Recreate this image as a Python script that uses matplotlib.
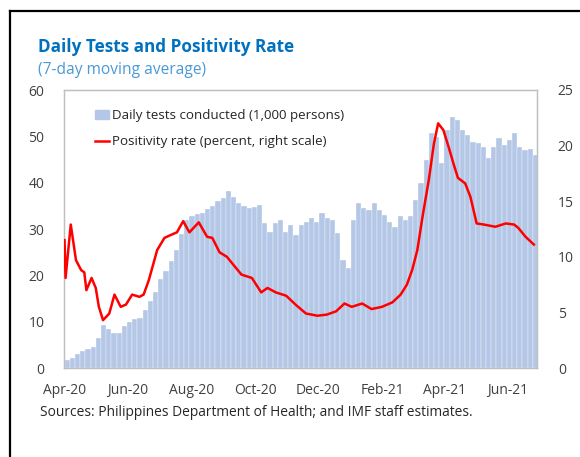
import matplotlib
matplotlib.use("Agg")
import matplotlib.pyplot as plt
import matplotlib.lines as mlines
import numpy as np
import pandas as pd

FONT = "Open Sans"
plt.rcParams['font.family'] = [FONT, 'DejaVu Sans']

start = pd.Timestamp("2020-04-01")

# Daily tests conducted (1,000 persons), one reading every 5 days from 1 Apr 2020
test_offsets = list(range(0, 451, 5))
tests = [1.7, 2.2, 3.0, 3.6, 4.2, 4.6, 6.5, 9.3, 8.5, 7.5,
         7.6, 9.0, 10.0, 10.5, 10.8, 12.5, 14.5, 16.5, 19.3, 21.0,
         23.0, 25.5, 29.0, 32.0, 32.8, 33.2, 33.5, 34.3, 35.0, 36.0,
         36.7, 38.2, 37.0, 35.6, 35.0, 34.5, 34.8, 35.2, 31.3, 29.4,
         31.3, 32.0, 29.4, 30.9, 28.7, 30.9, 31.6, 32.4, 31.6, 33.5,
         32.4, 32.0, 29.1, 23.3, 21.6, 32.0, 35.6, 34.5, 34.1, 35.6,
         34.1, 33.0, 31.6, 30.5, 32.7, 32.0, 32.7, 36.3, 39.9, 44.9,
         50.7, 49.9, 44.2, 51.4, 54.2, 53.5, 51.4, 50.3, 48.8, 48.6,
         47.8, 45.3, 47.8, 49.6, 48.1, 49.2, 50.7, 47.8, 47.0, 47.3,
         46.0]

# Positivity rate (percent), day offsets from 1 Apr 2020
pos_offsets = [0, 1, 6, 11, 16, 19, 21, 26, 30, 33, 37, 43, 48, 54, 59, 65, 72, 76,
               81, 89, 96, 103, 108, 114, 120, 129, 137, 142, 149, 156, 170, 180,
               189, 195, 203, 213, 222, 232, 243, 252, 261, 269, 276, 286, 295,
               305, 315, 323, 329, 334, 339, 344, 350, 355, 359, 364, 369, 374,
               378, 385, 390, 396, 403, 414, 424, 432, 436, 443, 451]
positivity = [11.5, 8.1, 12.9, 9.7, 8.8, 8.6, 7.0, 8.1, 7.2, 5.5, 4.3, 4.9, 6.6, 5.5,
              5.7, 6.6, 6.4, 6.6, 7.9, 10.6, 11.7, 12.0, 12.2, 13.2, 12.2, 13.1, 11.8,
              11.7, 10.4, 10.0, 8.4, 8.1, 6.8, 7.2, 6.8, 6.5, 5.7, 4.9, 4.7, 4.8, 5.1,
              5.8, 5.5, 5.8, 5.3, 5.5, 5.9, 6.6, 7.5, 8.8, 10.6, 13.6, 16.9, 20.2,
              22.0, 21.4, 19.9, 18.3, 17.1, 16.6, 15.4, 13.0, 12.9, 12.7, 13.0, 12.9,
              12.6, 11.8, 11.1]

tick_labels = ["Apr-20", "Jun-20", "Aug-20", "Oct-20", "Dec-20", "Feb-21", "Apr-21", "Jun-21"]
tick_dates = ["2020-04-01", "2020-06-01", "2020-08-01", "2020-10-01",
              "2020-12-01", "2021-02-01", "2021-04-01", "2021-06-01"]

title = "Daily Tests and Positivity Rate"
subtitle = "(7-day moving average)"
source = "Sources: Philippines Department of Health; and IMF staff estimates."
bar_label = "Daily tests conducted (1,000 persons)"
line_label = "Positivity rate (percent, right scale)"

W, H = 580, 457
fig = plt.figure(figsize=(W / 100, H / 100), dpi=100)
ax = fig.add_axes([64 / W, 1 - 368 / H, (537 - 64) / W, (368 - 90) / H])
ax2 = ax.twinx()

test_x = [start + pd.Timedelta(days=d) for d in test_offsets]
pos_x = [start + pd.Timedelta(days=d) for d in pos_offsets]

ax.bar(test_x, tests, width=5, color="#B4C7E7", edgecolor="white", linewidth=0.25,
       align="edge", zorder=1)
ax2.plot(pos_x, positivity, color="#FF0000", lw=1.8, zorder=3)

x0 = start - pd.Timedelta(days=0.5)
x1 = start + pd.Timedelta(days=454)
ax.set_xlim(x0, x1)
ax.set_ylim(0, 60)
ax2.set_ylim(0, 25)
ax.set_yticks(range(0, 61, 10))
ax2.set_yticks(range(0, 26, 5))
ax.set_xticks([pd.Timestamp(t) for t in tick_dates])
ax.set_xticklabels(tick_labels)

tick_color = "#404040"
for a in (ax, ax2):
    a.tick_params(length=0, labelsize=10, colors=tick_color)
    for s in a.spines.values():
        s.set_color("#BFBFBF")
        s.set_linewidth(0.9)
ax.tick_params(axis="y", pad=14)
ax2.tick_params(axis="y", pad=15)
ax.tick_params(axis="x", pad=11)

h1 = plt.Rectangle((0, 0), 1, 1, color="#B4C7E7")
h2 = mlines.Line2D([], [], color="#FF0000", lw=1.8)
leg = ax.legend([h1, h2], [bar_label, line_label], loc="upper left",
                bbox_to_anchor=(0.04, 0.975), frameon=False, fontsize=9.6,
                handlelength=1.05, handletextpad=0.2, labelspacing=1.0,
                labelcolor="#262626")

fig.text(38 / W, 1 - 47 / H, title, fontsize=12.3, fontweight="bold", color="#0070C0",
         va="center", ha="left")
fig.text(38 / W, 1 - 70 / H, subtitle, fontsize=11.2, color="#4A9AD6",
         va="center", ha="left")
fig.text(40 / W, 1 - 413 / H, source, fontsize=9.9, color="#262626",
         va="center", ha="left")

# outer frame lines (top and left)
fig.add_artist(mlines.Line2D([10 / W, 1.0], [1 - 11 / H, 1 - 11 / H],
                             color="black", lw=1.6, transform=fig.transFigure))
fig.add_artist(mlines.Line2D([10 / W, 10 / W], [1 - 11 / H, 0],
                             color="black", lw=1.6, transform=fig.transFigure))

fig.savefig("out.png", dpi=100)
